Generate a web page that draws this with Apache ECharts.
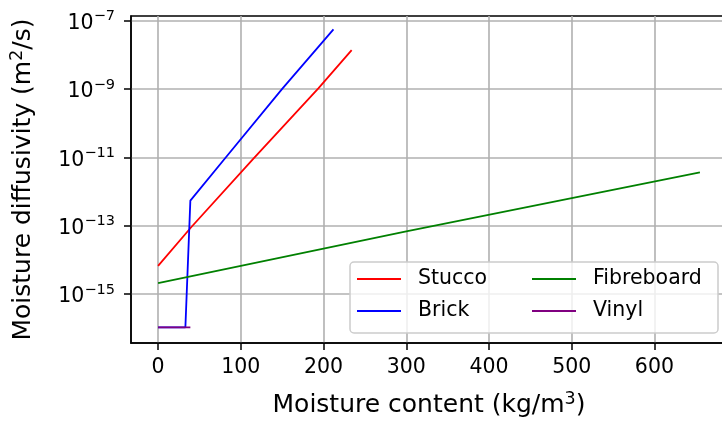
<!DOCTYPE html>
<html lang="en">
<head>
<meta charset="UTF-8">
<title>Moisture diffusivity</title>
<style>
  html, body { margin: 0; padding: 0; background: #fff; }
  #chart { width: 722px; height: 423px; }
</style>
</head>
<body>
<div id="chart"></div>
<script src="https://cdn.jsdelivr.net/npm/echarts@6/dist/echarts.min.js"></script>
<script>
// values
var stuccoX = [0, 40, 115, 194, 234];
var stuccoY = [6.7e-15, 9e-14, 9e-12, 1.05e-9, 1.35e-8];

var brickX = [0, 33, 39, 82, 150, 212];
var brickY = [1.07e-16, 1.07e-16, 5.4e-13, 1e-11, 1e-9, 5.5e-8];

var fibreX = [0, 300, 655];
var fibreY = [2.1e-15, 6.8e-14, 3.6e-12];

var vinylX = [0, 39];
var vinylY = [1.07e-16, 1.07e-16];

var xTicks = [0, 100, 200, 300, 400, 500, 600];
var yTicks = [1e-15, 1e-13, 1e-11, 1e-9, 1e-7];

function pairs(xs, ys) {
  var out = [];
  for (var i = 0; i < xs.length; i++) out.push([xs[i], ys[i]]);
  return out;
}

var FONT = 'DejaVu Sans';
var chart = echarts.init(document.getElementById('chart'));

function line(name, color, xs, ys) {
  return {
    name: name,
    type: 'line',
    data: pairs(xs, ys),
    symbol: 'none',
    animation: false,
    lineStyle: { color: color, width: 1.8 },
    itemStyle: { color: color }
  };
}

var legendCommon = {
  orient: 'vertical',
  top: 268,
  padding: 0,
  icon: 'rect',
  itemWidth: 44,
  itemHeight: 2,
  itemGap: 10,
  selectedMode: false,
  z: 6,
  textStyle: { fontFamily: FONT, fontSize: 20.5, color: '#000', lineHeight: 22, padding: [0, 0, 0, 12] }
};

chart.setOption({
  animation: false,
  grid: {
    left: 131, right: -5, top: 16, bottom: 80,
    show: true, borderColor: '#000', borderWidth: 1.5,
    outerBoundsMode: 'none'
  },
  xAxis: {
    type: 'value',
    min: -32.75,
    max: 687.75,
    name: 'Moisture content (kg/m{sup|3})',
    nameLocation: 'middle',
    nameGap: 47,
    nameTextStyle: {
      fontFamily: FONT, fontSize: 25, color: '#000',
      rich: { sup: { fontFamily: FONT, fontSize: 17.5, color: '#000', padding: [0, 0, 12, 0] } }
    },
    axisLine: { onZero: false, lineStyle: { color: '#000', width: 1.5 } },
    axisTick: { customValues: xTicks, length: 7, lineStyle: { color: '#000', width: 1.5 } },
    axisLabel: { customValues: xTicks, margin: 14, fontFamily: FONT, fontSize: 20.5, color: '#000' },
    splitLine: { show: true, lineStyle: { color: '#b0b0b0', width: 1.6 } }
  },
  yAxis: {
    type: 'log',
    logBase: 10,
    min: Math.pow(10, -16.43),
    max: Math.pow(10, -6.87),
    name: 'Moisture diffusivity (m{sup|2}/s)',
    nameLocation: 'middle',
    nameGap: 93,
    nameTextStyle: {
      fontFamily: FONT, fontSize: 25, color: '#000',
      rich: { sup: { fontFamily: FONT, fontSize: 17.5, color: '#000', padding: [0, 0, 12, 0] } }
    },
    axisLine: { show: true, onZero: false, lineStyle: { color: '#000', width: 1.5 } },
    axisTick: { show: true, customValues: yTicks, length: 7, lineStyle: { color: '#000', width: 1.5 } },
    axisLabel: {
      customValues: yTicks,
      margin: 16,
      formatter: function (v) {
        var e = Math.round(Math.log10(v));
        return '{b|10}{s|' + (e < 0 ? '\u2212' : '') + Math.abs(e) + '}';
      },
      rich: {
        b: { fontFamily: FONT, fontSize: 20.5, color: '#000', padding: [6, 0, 0, 0] },
        s: { fontFamily: FONT, fontSize: 14.5, color: '#000', padding: [0, 0, 8, 0] }
      }
    },
    splitLine: { show: true, lineStyle: { color: '#b0b0b0', width: 1.6 } }
  },
  graphic: [{
    type: 'rect',
    z: 5,
    shape: { x: 350, y: 262, width: 368, height: 71, r: 4 },
    style: { fill: 'rgba(255,255,255,0.8)', stroke: '#cccccc', lineWidth: 1.5 }
  }],
  legend: [
    echarts.util.extend({ left: 357, data: ['Stucco', 'Brick'] }, legendCommon),
    echarts.util.extend({ left: 532, data: ['Fibreboard', 'Vinyl'] }, legendCommon)
  ],
  series: [
    line('Stucco', '#ff0000', stuccoX, stuccoY),
    line('Brick', '#0000ff', brickX, brickY),
    line('Fibreboard', '#008000', fibreX, fibreY),
    line('Vinyl', '#800080', vinylX, vinylY)
  ]
});
</script>
</body>
</html>
